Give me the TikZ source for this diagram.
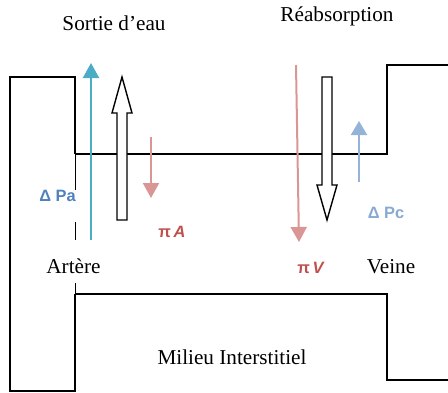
\documentclass[tikz,border=0pt]{standalone}
\usepackage{fontspec}
\setmainfont{Liberation Serif}
\newfontfamily\lblsans{Liberation Sans}
\usetikzlibrary{arrows.meta}
\definecolor{artblue}{HTML}{4BACC6}
\definecolor{venblue}{HTML}{95B3D7}
\definecolor{oncored}{HTML}{D99694}
\definecolor{pablue}{HTML}{4F81BD}
\definecolor{pired}{HTML}{C0504D}
\tikzset{
  wall/.style={draw=black, line width=0.7pt},
  memb/.style={draw=black, line width=0.45pt},
  blockarr/.style={draw=black, line width=0.7pt, fill=white, line join=miter},
  flowart/.style={-{Triangle[length=7.5pt,width=8pt]}, draw=artblue, line width=1pt},
  flowven/.style={-{Triangle[length=7pt,width=8pt]}, draw=venblue, line width=1pt},
  flowonc/.style={-{Triangle[length=7.5pt,width=8pt]}, draw=oncored, line width=1pt},
  ttl/.style={font=\fontsize{10.6}{12}\selectfont, inner sep=0pt},
  plbl/.style={font=\lblsans\bfseries\fontsize{8.2}{9}\selectfont, text=pablue, inner sep=0pt},
  pilbl/.style={font=\lblsans\bfseries\fontsize{8.2}{9}\selectfont, text=pired, inner sep=0pt},
}
\begin{document}
\begin{tikzpicture}[x=0.5pt,y=-0.5pt]
  \useasboundingbox (0,0) rectangle (448,392);
  % vessel walls
  \draw[wall] (75,154) -- (75,77) -- (10,77) -- (10,391) -- (75,391) -- (75,294);
  \draw[wall] (75,154) -- (387,154) -- (387,65) -- (448,65);
  \draw[wall] (75,294) -- (387,294) -- (387,380) -- (448,380);
  % capillary membrane, artery side
  \draw[memb] (75,154) -- (75,190);
  \draw[memb] (75,222) -- (75,240);
  \draw[memb] (75,283) -- (75,294);
  % titles
  \node[ttl] (sortie) at (114,23) {Sortie d’eau};
  \node[ttl] (reabs) at (337,16) {Réabsorption};
  \node[ttl] (artere) at (73.5,266) {Artère};
  \node[ttl] (veine) at (391,267) {Veine};
  \node[ttl] (milieu) at (232,357) {Milieu Interstitiel};
  % pressure labels
  \node[plbl] (dpa) at (57.5,196) {Δ Pa};
  \node[plbl, text=venblue!80!pablue] (dpc) at (386,213) {Δ Pc};
  \node[pilbl] (pia) at (172,232) {π\,\textit{A}};
  \node[pilbl] (piv) at (311,268) {π\,\textit{V}};
  % forces
  \coordinate (dpa-s) at (91,240);
  \coordinate (dpa-e) at (91,63);
  \coordinate (pia-s) at (151,137);
  \coordinate (pia-e) at (151,198);
  \coordinate (piv-s) at (296,65);
  \coordinate (piv-e) at (299,242);
  \coordinate (dpc-s) at (359,182);
  \coordinate (dpc-e) at (359,121);
  \draw[flowart] (dpa-s) -- (dpa-e);
  \draw[flowonc] (pia-s) -- (pia-e);
  \draw[flowonc] (piv-s) -- (piv-e);
  \draw[flowven] (dpc-s) -- (dpc-e);
  % resulting flows
  \draw[blockarr] (117,220) -- (117,113) -- (112,113) -- (122,77) -- (132,113) -- (127,113) -- (127,220) -- cycle;
  \draw[blockarr] (322,77) -- (322,185) -- (317,185) -- (327,220) -- (337,185) -- (332,185) -- (332,77) -- cycle;
\end{tikzpicture}
\end{document}
